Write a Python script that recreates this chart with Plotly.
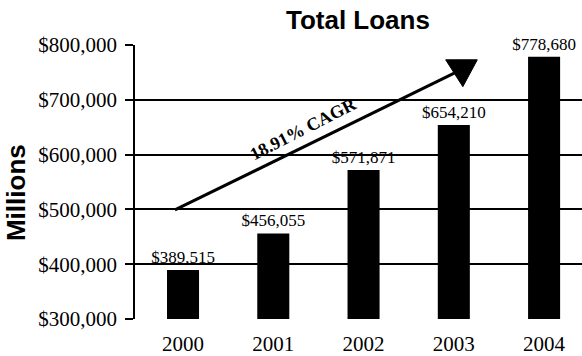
import plotly.graph_objects as go

# Loan totals by year (millions of dollars)
years = ["2000", "2001", "2002", "2003", "2004"]
loans = [389515, 456055, 571871, 654210, 778680]

# Value axis ticks
y_ticks = [300000, 400000, 500000, 600000, 700000, 800000]
y_tick_text = ["$300,000", "$400,000", "$500,000", "$600,000", "$700,000", "$800,000"]

# Growth arrow drawn across the bars (x in category index, y in millions)
arrow_start = (-0.09, 499000)
arrow_end = (3.01, 749000)
arrow_head = [(2.91, 773000), (3.26, 773000), (3.10, 724000)]
cagr_label = "18.91% CAGR"
cagr_label_pos = (1.33, 646000)

positions = list(range(len(years)))
serif = "Liberation Serif, Times New Roman, serif"
sans = "Liberation Sans, Arial, sans-serif"

fig = go.Figure()
fig.add_trace(go.Bar(
    x=positions,
    y=[v - y_ticks[0] for v in loans],
    base=y_ticks[0],
    width=0.355,
    marker=dict(color="black", line=dict(width=0)),
    text=[f"${v:,}" for v in loans],
    textposition="outside",
    constraintext="none",
    textfont=dict(family=serif, size=17, color="black"),
    cliponaxis=False,
    hoverinfo="skip",
))

# Arrow shaft
fig.add_shape(type="line", xref="x", yref="y",
              x0=arrow_start[0], y0=arrow_start[1],
              x1=arrow_end[0], y1=arrow_end[1],
              line=dict(color="black", width=3))
# Arrow head
path = "M " + " L ".join(f"{x},{y}" for x, y in arrow_head) + " Z"
fig.add_shape(type="path", xref="x", yref="y", path=path,
              fillcolor="black", line=dict(color="black", width=1))

fig.add_annotation(x=cagr_label_pos[0], y=cagr_label_pos[1], xref="x", yref="y",
                   text=f"<b>{cagr_label}</b>", showarrow=False, textangle=-27,
                   xanchor="center", yanchor="middle",
                   font=dict(family=serif, size=18, color="black"))

fig.add_annotation(x=-0.266, y=0.46, xref="paper", yref="paper",
                   text="<b>Millions</b>", showarrow=False, textangle=-90,
                   xanchor="center", yanchor="middle",
                   font=dict(family=sans, size=26, color="black"))

fig.update_layout(
    width=582, height=356,
    margin=dict(l=135, r=0, t=45, b=35),
    paper_bgcolor="white", plot_bgcolor="white",
    showlegend=False,
    title=dict(text="<b>Total Loans</b>", x=0.615, xref="container", xanchor="center",
               y=0.944, yref="container", yanchor="middle",
               font=dict(family=sans, size=26, color="black")),
    xaxis=dict(range=[-0.532, 4.42], tickvals=positions, ticktext=years,
               showgrid=False, showline=False, zeroline=False, ticks="",
               ticklabelstandoff=10,
               tickfont=dict(family=serif, size=21, color="black")),
    yaxis=dict(range=[y_ticks[0], y_ticks[-1]], tickvals=y_ticks, ticktext=y_tick_text,
               showgrid=True, gridcolor="black", gridwidth=1.5,
               showline=True, linecolor="black", linewidth=1.5,
               zeroline=False, ticks="outside", ticklen=8, tickcolor="black",
               tickwidth=1.5, ticklabelstandoff=4,
               tickfont=dict(family=serif, size=21, color="black")),
)

fig.write_html("out.html")
